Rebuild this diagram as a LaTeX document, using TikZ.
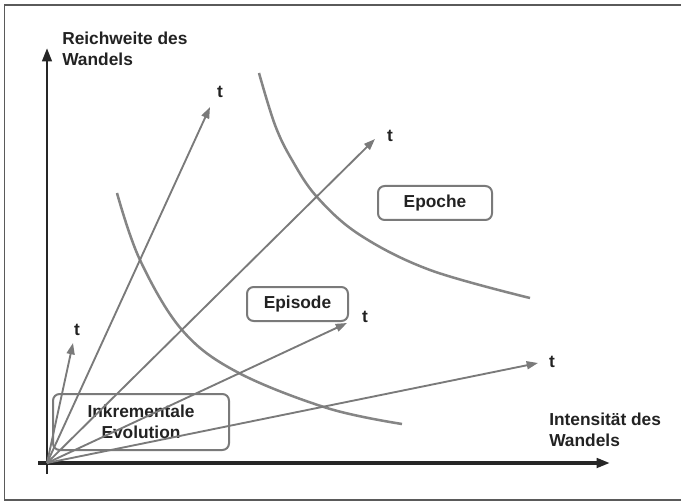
\documentclass[tikz,border=0pt]{standalone}
\usepackage{fontspec}
\setmainfont{Liberation Sans}
\usetikzlibrary{arrows.meta}
\definecolor{ink}{HTML}{222222}
\definecolor{linegray}{HTML}{7A7A7A}
\definecolor{curvegray}{HTML}{858585}
\definecolor{framegray}{HTML}{5A5A5A}
\tikzset{
  lbl/.style={font=\fontsize{13}{15.5}\selectfont\bfseries, text=ink, inner sep=0pt},
  axislabel/.style={lbl, align=left, anchor=north west},
  region/.style={draw=linegray, line width=1.5pt, rounded corners=5pt, lbl, align=center},
  timeline/.style={draw=linegray, line width=1.4pt, -{Triangle[length=8.5pt,width=6pt]}},
  axis/.style={draw=black!85, -{Triangle[length=10pt,width=7pt]}},
  curve/.style={draw=curvegray, line width=1.9pt},
  tlbl/.style={lbl}
}
\begin{document}
\begin{tikzpicture}[x=0.75pt,y=-0.75pt]
\useasboundingbox (0,0) rectangle (681,502);
% outer frame
\draw[framegray, line width=1.2pt] (4.5,5) rectangle (683,500);

% axes
\coordinate (O) at (47,463);
\coordinate (ybot) at (47,474);
\coordinate (ytop) at (47,48);
\coordinate (xleft) at (38,463);
\coordinate (xright) at (610,463);
\draw[axis, line width=2.2pt] (ybot) -- (ytop);
\draw[axis, line width=3pt] (xleft) -- (xright);

\node[axislabel] (ylab) at (62,32) {Reichweite des\\Wandels};
\node[axislabel] (xlab) at (549,413) {Intensität des\\Wandels};

% boundary curves between the regions
\draw[curve] plot[smooth, tension=0.6] coordinates
  {(117,193) (140,260) (182,330) (237,372) (327,408) (402,424)};
\draw[curve] plot[smooth, tension=0.6] coordinates
  {(259,73) (275,125) (292,160) (317,197) (360,235) (430,270) (530,298)};

% regions
\node[region, minimum width=85.5pt, minimum height=25.5pt] (epoche) at (435,203) {Epoche};
\node[region, minimum width=75.75pt, minimum height=25.5pt] (episode) at (297.5,304) {Episode};
\node[region, minimum width=132pt, minimum height=42pt] (evol) at (141,422) {Inkrementale\\Evolution};

% time directions
\coordinate (t1) at (73,343);
\coordinate (t2) at (210,107);
\coordinate (t3) at (375,139);
\coordinate (t4) at (347,323);
\coordinate (t5) at (538,363);
\foreach \i in {1,...,5} \draw[timeline] (O) -- (t\i);
\node[tlbl] (lt1) at (77,330) {t};
\node[tlbl] (lt2) at (220,92) {t};
\node[tlbl] (lt3) at (390,136) {t};
\node[tlbl] (lt4) at (365,317) {t};
\node[tlbl] (lt5) at (552,362) {t};
\end{tikzpicture}
\end{document}
